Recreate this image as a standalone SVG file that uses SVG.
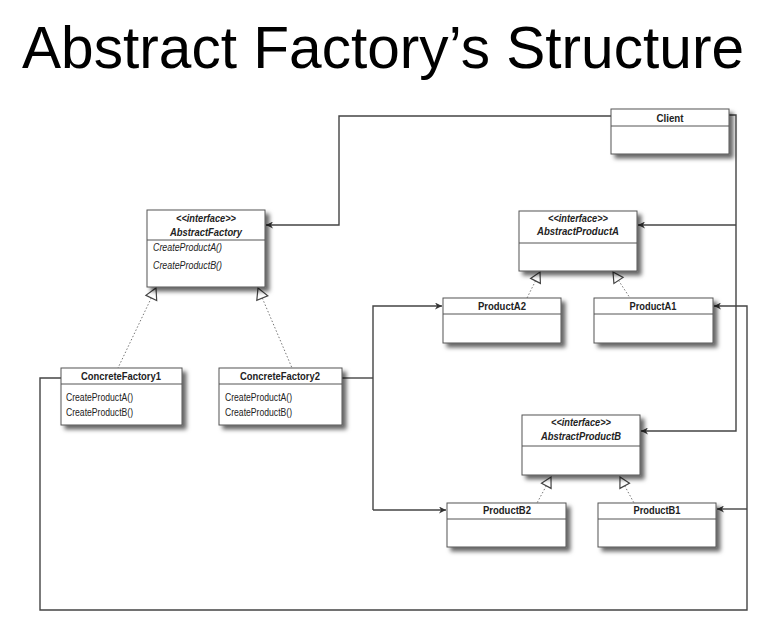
<svg xmlns="http://www.w3.org/2000/svg" width="767" height="626" viewBox="0 0 767 626">
<defs>
<filter id="sh" x="-10%" y="-10%" width="130%" height="140%">
<feDropShadow dx="4" dy="4" stdDeviation="2.2" flood-color="#000" flood-opacity="0.6"/>
</filter>
<marker id="ah" viewBox="0 0 10 10" refX="10" refY="5" markerWidth="9" markerHeight="7" markerUnits="userSpaceOnUse" orient="auto">
<path d="M0,0 L10,5 L0,10 L3,5 z" fill="#333"/>
</marker>
</defs>
<style>
.box{fill:#fff;stroke:#555;stroke-width:1;filter:url(#sh)}
.div{stroke:#555;stroke-width:1;fill:none}
.t{font-family:"Liberation Sans",Arial,sans-serif;font-size:11px;fill:#222}
.b{font-weight:bold;text-anchor:middle}
.bi{font-weight:bold;font-style:italic;text-anchor:middle}
.i{font-style:italic}
.ln{fill:none;stroke:#444;stroke-width:1.4}
.dot{fill:none;stroke:#777;stroke-width:1;stroke-dasharray:1.5 2}
.tri{fill:#fff;stroke:#444;stroke-width:1.2}
.title{font-family:"Liberation Sans",Arial,sans-serif;font-size:59px;fill:#000}
</style>
<rect width="767" height="626" fill="#fff"/>
<text class="title" x="22" y="68" textLength="722" lengthAdjust="spacingAndGlyphs">Abstract Factory’s Structure</text>

<g id="connectors">
<path class="ln" d="M611,116 H339 V225 H266" marker-end="url(#ah)"/>
<path class="ln" d="M729,115 H736 V431 H641" marker-end="url(#ah)"/>
<path class="ln" d="M736,225 H638" marker-end="url(#ah)"/>
<path class="ln" d="M61,378 H40 V610 H747 V306 H714" marker-end="url(#ah)"/>
<path class="ln" d="M747,509 H717" marker-end="url(#ah)"/>
<path class="ln" d="M342,378 H373"/>
<path class="ln" d="M373,510 V306 H442" marker-end="url(#ah)"/>
<path class="ln" d="M373,510 H446" marker-end="url(#ah)"/>
<path class="dot" d="M151.3,297.9 L118,368"/>
<path class="dot" d="M262.3,298.1 L292,368"/>
<path class="dot" d="M535.5,280.9 L527,298"/>
<path class="dot" d="M618.5,280.4 L630,298"/>
<path class="dot" d="M546.3,485.8 L537,503"/>
<path class="dot" d="M624.7,485.8 L634,503"/>
<polygon class="tri" points="156,288 156.7,300.5 145.9,295.3"/>
<polygon class="tri" points="258,288 267.8,295.8 256.8,300.4"/>
<polygon class="tri" points="540,272 540.4,283.4 530.6,278.4"/>
<polygon class="tri" points="613,272 623.1,277.4 613.9,283.4"/>
<polygon class="tri" points="551,477 551.1,488.4 541.5,483.2"/>
<polygon class="tri" points="620,477 629.5,483.2 619.9,488.4"/>
</g>

<g id="client">
<rect class="box" x="611" y="109" width="118" height="45"/>
<line class="div" x1="611" y1="126" x2="729" y2="126"/>
<text class="t b" x="670" y="121.5" textLength="27" lengthAdjust="spacingAndGlyphs">Client</text>
</g>

<g id="abstractFactory">
<rect class="box" x="147" y="210" width="118" height="77"/>
<line class="div" x1="147" y1="240" x2="265" y2="240"/>
<text class="t bi" x="206" y="222" textLength="60" lengthAdjust="spacingAndGlyphs">&lt;&lt;interface&gt;&gt;</text>
<text class="t bi" x="206" y="236" textLength="72" lengthAdjust="spacingAndGlyphs">AbstractFactory</text>
<text class="t i" x="153" y="251" textLength="69" lengthAdjust="spacingAndGlyphs">CreateProductA()</text>
<text class="t i" x="153" y="269" textLength="69" lengthAdjust="spacingAndGlyphs">CreateProductB()</text>
</g>

<g id="abstractProductA">
<rect class="box" x="519" y="211" width="118" height="60"/>
<line class="div" x1="519" y1="243" x2="637" y2="243"/>
<text class="t bi" x="578" y="221.5" textLength="60" lengthAdjust="spacingAndGlyphs">&lt;&lt;interface&gt;&gt;</text>
<text class="t bi" x="578" y="235" textLength="82" lengthAdjust="spacingAndGlyphs">AbstractProductA</text>
</g>

<g id="productA2">
<rect class="box" x="443" y="298" width="118" height="45"/>
<line class="div" x1="443" y1="314" x2="561" y2="314"/>
<text class="t b" x="502" y="310" textLength="48" lengthAdjust="spacingAndGlyphs">ProductA2</text>
</g>

<g id="productA1">
<rect class="box" x="594" y="298" width="119" height="45"/>
<line class="div" x1="594" y1="314" x2="713" y2="314"/>
<text class="t b" x="653" y="310" textLength="47" lengthAdjust="spacingAndGlyphs">ProductA1</text>
</g>

<g id="concreteFactory1">
<rect class="box" x="61" y="368" width="121" height="57"/>
<line class="div" x1="61" y1="384" x2="182" y2="384"/>
<text class="t b" x="121" y="379.5" textLength="80" lengthAdjust="spacingAndGlyphs">ConcreteFactory1</text>
<text class="t" x="66" y="400.5" textLength="67" lengthAdjust="spacingAndGlyphs">CreateProductA()</text>
<text class="t" x="66" y="415.5" textLength="67" lengthAdjust="spacingAndGlyphs">CreateProductB()</text>
</g>

<g id="concreteFactory2">
<rect class="box" x="219" y="368" width="123" height="57"/>
<line class="div" x1="219" y1="384" x2="342" y2="384"/>
<text class="t b" x="280" y="379.5" textLength="80" lengthAdjust="spacingAndGlyphs">ConcreteFactory2</text>
<text class="t" x="225" y="400.5" textLength="67" lengthAdjust="spacingAndGlyphs">CreateProductA()</text>
<text class="t" x="225" y="415.5" textLength="67" lengthAdjust="spacingAndGlyphs">CreateProductB()</text>
</g>

<g id="abstractProductB">
<rect class="box" x="522" y="415" width="118" height="60"/>
<line class="div" x1="522" y1="446" x2="640" y2="446"/>
<text class="t bi" x="581" y="425.5" textLength="60" lengthAdjust="spacingAndGlyphs">&lt;&lt;interface&gt;&gt;</text>
<text class="t bi" x="581" y="440" textLength="80" lengthAdjust="spacingAndGlyphs">AbstractProductB</text>
</g>

<g id="productB2">
<rect class="box" x="447" y="503" width="119" height="44"/>
<line class="div" x1="447" y1="519" x2="566" y2="519"/>
<text class="t b" x="507" y="514" textLength="48" lengthAdjust="spacingAndGlyphs">ProductB2</text>
</g>

<g id="productB1">
<rect class="box" x="598" y="503" width="118" height="44"/>
<line class="div" x1="598" y1="519" x2="716" y2="519"/>
<text class="t b" x="657" y="514" textLength="47" lengthAdjust="spacingAndGlyphs">ProductB1</text>
</g>
</svg>
